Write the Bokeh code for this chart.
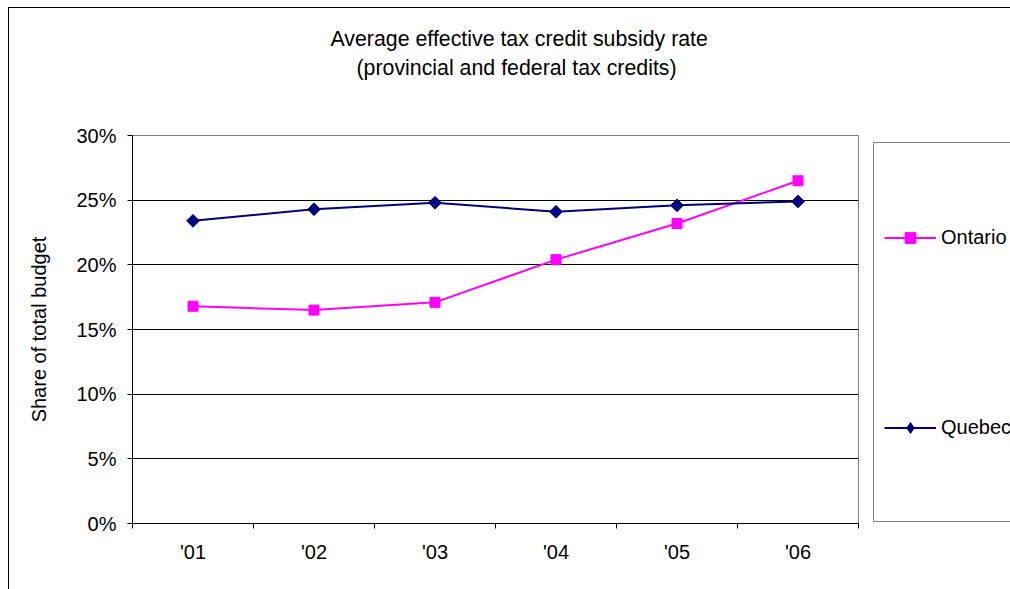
import numpy as np
from bokeh.plotting import figure
from bokeh.layouts import row
from bokeh.models import (Range1d, FixedTicker, NumeralTickFormatter, Legend,
                          LegendItem, Title)
from bokeh.embed import file_html
from bokeh.resources import INLINE

# ---- data ----
years = ["'01", "'02", "'03", "'04", "'05", "'06"]
ontario = [0.168, 0.165, 0.171, 0.204, 0.232, 0.265]
quebec = [0.234, 0.243, 0.248, 0.241, 0.246, 0.249]
y_ticks = [0.0, 0.05, 0.10, 0.15, 0.20, 0.25, 0.30]
title_lines = ["Average effective tax credit subsidy rate",
               "(provincial and federal tax credits)"]
y_label = "Share of total budget"
series_names = ["Ontario", "Quebec"]

FONT = "Liberation Sans"
FS = "20px"
TFS = "16pt"
ON_COL = "#FF00FF"
QC_COL = "#000080"
n = len(years)
xs = np.arange(n) + 0.5

# ---------------- main chart ----------------
p = figure(width=857, height=581, output_backend="svg", toolbar_location=None,
           x_range=Range1d(0, n), y_range=Range1d(0, y_ticks[-1]),
           min_border_left=123, min_border_right=8,
           min_border_top=127, min_border_bottom=66)
p.background_fill_color = "white"
p.border_fill_color = "white"
p.outline_line_color = "#808080"
p.outline_line_width = 1

xa = p.xaxis[0]
xa.ticker = FixedTicker(ticks=list(xs), minor_ticks=list(range(n + 1)))
xa.major_label_overrides = {float(x): lab for x, lab in zip(xs, years)}
xa.major_tick_line_color = None
xa.major_tick_out = 0
xa.major_tick_in = 0
xa.minor_tick_line_color = "black"
xa.minor_tick_out = 5
xa.minor_tick_in = 0
xa.axis_line_color = "black"
xa.major_label_standoff = 12
xa.major_label_text_font = FONT
xa.major_label_text_font_size = FS
xa.major_label_text_color = "black"

ya = p.yaxis[0]
ya.ticker = FixedTicker(ticks=y_ticks, minor_ticks=[])
ya.formatter = NumeralTickFormatter(format="0%")
ya.major_tick_line_color = "black"
ya.major_tick_out = 5
ya.major_tick_in = 0
ya.minor_tick_line_color = None
ya.axis_line_color = "black"
ya.major_label_standoff = 11
ya.major_label_text_font = FONT
ya.major_label_text_font_size = FS
ya.major_label_text_color = "black"
ya.axis_label = y_label
ya.axis_label_text_font = FONT
ya.axis_label_text_font_size = FS
ya.axis_label_text_font_style = "normal"
ya.axis_label_text_color = "black"
ya.axis_label_standoff = 23

p.xgrid.grid_line_color = None
p.ygrid.grid_line_color = "black"
p.ygrid.grid_line_width = 1

p.line(xs, ontario, line_color=ON_COL, line_width=2)
p.scatter(xs, ontario, marker="square", size=10,
          fill_color=ON_COL, line_color=ON_COL)
p.line(xs, quebec, line_color=QC_COL, line_width=2)
p.scatter(xs, quebec, marker="square", size=9, angle=np.pi / 4,
          fill_color=QC_COL, line_color=QC_COL)

# two-line title, lifted away from the frame by a blank spacer title
title_font = dict(text_font=FONT, text_font_size=TFS, text_font_style="normal",
                  text_color="black")
p.add_layout(Title(text=" ", standoff=27, **title_font), "above")
p.add_layout(Title(text=title_lines[1], align="left", offset=224, standoff=6,
                   **title_font), "above")
p.title.text = title_lines[0]
p.title.align = "left"
p.title.offset = 198
p.title.standoff = 0
for k, v in title_font.items():
    setattr(p.title, k, v)

# ---------------- legend panel ----------------
# proxy renderers carry the legend glyph styles; their data sit outside this
# panel's (dummy) ranges, so only the legend draws them
q = figure(width=144, height=581, output_backend="svg", toolbar_location=None,
           x_range=Range1d(-10, -9), y_range=Range1d(-10, -9),
           x_axis_type=None, y_axis_type=None,
           min_border_left=0, min_border_right=0,
           min_border_top=0, min_border_bottom=0)
q.outline_line_color = None
q.background_fill_color = "white"
q.border_fill_color = "white"
lo_l = q.line(xs, ontario, line_color=ON_COL, line_width=2)
lo_s = q.scatter(xs, ontario, marker="square", fill_color=ON_COL, line_color=ON_COL)
lq_l = q.line(xs, quebec, line_color=QC_COL, line_width=2)
lq_s = q.scatter(xs, quebec, marker="diamond", fill_color=QC_COL, line_color=QC_COL)

legend = Legend(items=[LegendItem(label=series_names[0], renderers=[lo_l, lo_s]),
                       LegendItem(label=series_names[1], renderers=[lq_l, lq_s])],
                location=(7, 1), orientation="vertical",
                glyph_width=52, glyph_height=27, label_height=168, label_width=90,
                spacing=22, padding=10, margin=0, label_standoff=5,
                border_line_color="black", border_line_width=1,
                background_fill_color="white", background_fill_alpha=1,
                label_text_font=FONT, label_text_font_size=FS,
                label_text_color="black", label_text_baseline="middle")
q.add_layout(legend, "center")

layout = row(p, q, styles={"margin-left": "8px", "margin-top": "7px",
                           "border-left": "1px solid black",
                           "border-top": "1px solid black"})

open("out.html", "w").write(file_html(layout, INLINE))
